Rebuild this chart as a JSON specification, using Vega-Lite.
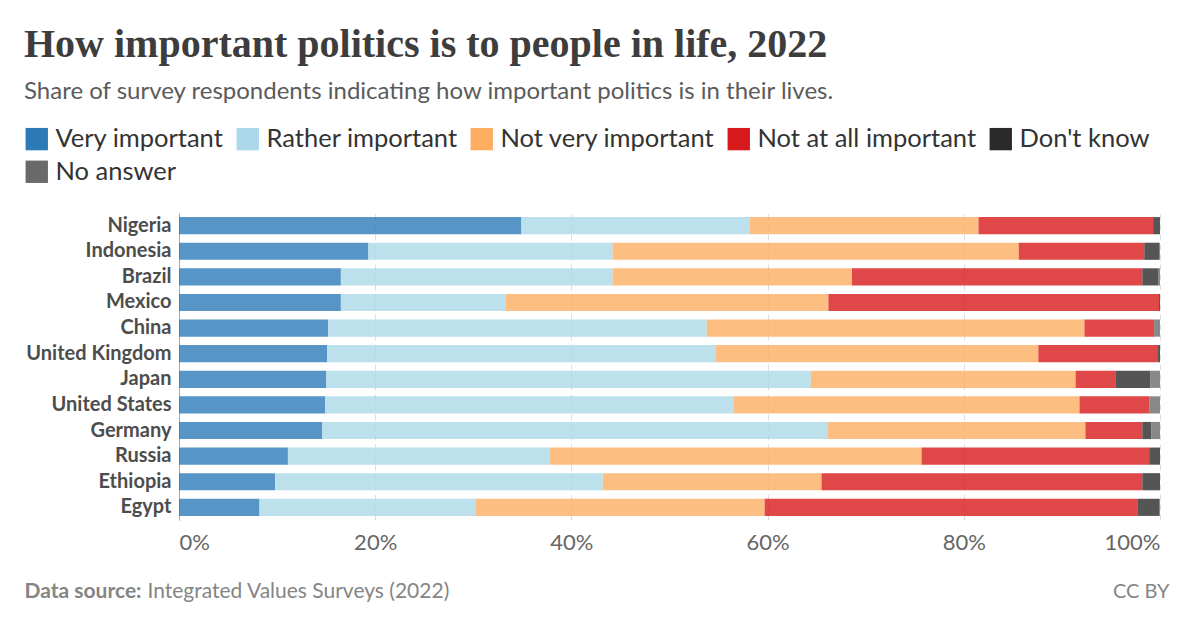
{
  "$schema": "https://vega.github.io/schema/vega-lite/v6.json",
  "width": 981,
  "height": 307,
  "autosize": {"type": "none"},
  "padding": {"left": 179, "top": 213, "right": 40, "bottom": 108},
  "background": "white",
  "title": {
    "text": "How important politics is to people in life, 2022",
    "subtitle": "Share of survey respondents indicating how important politics is in their lives.",
    "anchor": "start",
    "frame": "bounds",
    "font": "Liberation Serif",
    "fontSize": 40,
    "fontWeight": "bold",
    "color": "#3d3d3d",
    "subtitleFont": "Lato",
    "subtitleFontSize": 24,
    "subtitleColor": "#5b5b5b",
    "subtitlePadding": 15,
    "offset": 22
  },
  "data": {
    "values": [
      {"country": "Nigeria", "answer": "Very important", "share": 34.9},
      {"country": "Nigeria", "answer": "Rather important", "share": 23.3},
      {"country": "Nigeria", "answer": "Not very important", "share": 23.3},
      {"country": "Nigeria", "answer": "Not at all important", "share": 17.8},
      {"country": "Nigeria", "answer": "Don't know", "share": 0.7},
      {"country": "Nigeria", "answer": "No answer", "share": 0},
      {"country": "Indonesia", "answer": "Very important", "share": 19.3},
      {"country": "Indonesia", "answer": "Rather important", "share": 24.9},
      {"country": "Indonesia", "answer": "Not very important", "share": 41.4},
      {"country": "Indonesia", "answer": "Not at all important", "share": 12.8},
      {"country": "Indonesia", "answer": "Don't know", "share": 1.5},
      {"country": "Indonesia", "answer": "No answer", "share": 0.1},
      {"country": "Brazil", "answer": "Very important", "share": 16.5},
      {"country": "Brazil", "answer": "Rather important", "share": 27.7},
      {"country": "Brazil", "answer": "Not very important", "share": 24.4},
      {"country": "Brazil", "answer": "Not at all important", "share": 29.6},
      {"country": "Brazil", "answer": "Don't know", "share": 1.6},
      {"country": "Brazil", "answer": "No answer", "share": 0.2},
      {"country": "Mexico", "answer": "Very important", "share": 16.5},
      {"country": "Mexico", "answer": "Rather important", "share": 16.8},
      {"country": "Mexico", "answer": "Not very important", "share": 32.9},
      {"country": "Mexico", "answer": "Not at all important", "share": 33.7},
      {"country": "Mexico", "answer": "Don't know", "share": 0.1},
      {"country": "Mexico", "answer": "No answer", "share": 0},
      {"country": "China", "answer": "Very important", "share": 15.2},
      {"country": "China", "answer": "Rather important", "share": 38.6},
      {"country": "China", "answer": "Not very important", "share": 38.5},
      {"country": "China", "answer": "Not at all important", "share": 7.1},
      {"country": "China", "answer": "Don't know", "share": 0},
      {"country": "China", "answer": "No answer", "share": 0.6},
      {"country": "United Kingdom", "answer": "Very important", "share": 15.1},
      {"country": "United Kingdom", "answer": "Rather important", "share": 39.6},
      {"country": "United Kingdom", "answer": "Not very important", "share": 32.9},
      {"country": "United Kingdom", "answer": "Not at all important", "share": 12.2},
      {"country": "United Kingdom", "answer": "Don't know", "share": 0.2},
      {"country": "United Kingdom", "answer": "No answer", "share": 0},
      {"country": "Japan", "answer": "Very important", "share": 15.0},
      {"country": "Japan", "answer": "Rather important", "share": 49.4},
      {"country": "Japan", "answer": "Not very important", "share": 27.0},
      {"country": "Japan", "answer": "Not at all important", "share": 4.1},
      {"country": "Japan", "answer": "Don't know", "share": 3.5},
      {"country": "Japan", "answer": "No answer", "share": 1.0},
      {"country": "United States", "answer": "Very important", "share": 14.9},
      {"country": "United States", "answer": "Rather important", "share": 41.6},
      {"country": "United States", "answer": "Not very important", "share": 35.3},
      {"country": "United States", "answer": "Not at all important", "share": 7.1},
      {"country": "United States", "answer": "Don't know", "share": 0},
      {"country": "United States", "answer": "No answer", "share": 1.1},
      {"country": "Germany", "answer": "Very important", "share": 14.6},
      {"country": "Germany", "answer": "Rather important", "share": 51.5},
      {"country": "Germany", "answer": "Not very important", "share": 26.3},
      {"country": "Germany", "answer": "Not at all important", "share": 5.8},
      {"country": "Germany", "answer": "Don't know", "share": 0.9},
      {"country": "Germany", "answer": "No answer", "share": 0.9},
      {"country": "Russia", "answer": "Very important", "share": 11.1},
      {"country": "Russia", "answer": "Rather important", "share": 26.7},
      {"country": "Russia", "answer": "Not very important", "share": 37.9},
      {"country": "Russia", "answer": "Not at all important", "share": 23.2},
      {"country": "Russia", "answer": "Don't know", "share": 1.1},
      {"country": "Russia", "answer": "No answer", "share": 0},
      {"country": "Ethiopia", "answer": "Very important", "share": 9.8},
      {"country": "Ethiopia", "answer": "Rather important", "share": 33.4},
      {"country": "Ethiopia", "answer": "Not very important", "share": 22.3},
      {"country": "Ethiopia", "answer": "Not at all important", "share": 32.7},
      {"country": "Ethiopia", "answer": "Don't know", "share": 1.8},
      {"country": "Ethiopia", "answer": "No answer", "share": 0},
      {"country": "Egypt", "answer": "Very important", "share": 8.2},
      {"country": "Egypt", "answer": "Rather important", "share": 22.0},
      {"country": "Egypt", "answer": "Not very important", "share": 29.5},
      {"country": "Egypt", "answer": "Not at all important", "share": 38.0},
      {"country": "Egypt", "answer": "Don't know", "share": 2.2},
      {"country": "Egypt", "answer": "No answer", "share": 0.1}
    ]
  },
  "transform": [
    {"calculate": "indexof(['Very important', 'Rather important', 'Not very important', 'Not at all important', \"Don't know\", 'No answer'], datum.answer)", "as": "answer_order"}
  ],
  "layer": [
    {
      "mark": {"type": "bar", "opacity": 0.8},
      "encoding": {
        "y": {
          "field": "country",
          "type": "nominal",
          "sort": ["Nigeria", "Indonesia", "Brazil", "Mexico", "China", "United Kingdom", "Japan", "United States", "Germany", "Russia", "Ethiopia", "Egypt"],
          "scale": {"paddingInner": 0.33, "paddingOuter": 0.16},
          "axis": {
            "orient": "left",
            "title": "Data source:",
            "titleAngle": 0,
            "titleX": -155,
            "titleY": 378,
            "titleAlign": "left",
            "titleBaseline": "middle",
            "titleFont": "Lato",
            "titleFontSize": 21,
            "titleFontWeight": "bold",
            "titleColor": "#858585",
            "labelFont": "Lato",
            "labelFontSize": 20,
            "labelFontWeight": "bold",
            "labelColor": "#4d4d4d",
            "labelPadding": 8,
            "ticks": false,
            "domain": true,
            "domainColor": "#a6a6a6",
            "domainWidth": 1,
            "grid": false
          }
        },
        "x": {
          "field": "share",
          "type": "quantitative",
          "stack": "zero",
          "scale": {"domain": [0, 100], "nice": false},
          "axis": {
            "orient": "bottom",
            "values": [0, 20, 40, 60, 80, 100],
            "labelExpr": "datum.value + '%'",
            "labelFlush": true,
            "labelFont": "Lato",
            "labelFontSize": 22,
            "labelColor": "#666666",
            "labelPadding": 12,
            "ticks": false,
            "domain": false,
            "grid": true,
            "gridColor": "#dddddd",
            "gridDash": [6, 4],
            "gridWidth": 1,
            "title": "Integrated Values Surveys (2022)",
            "titleX": -32,
            "titleY": 71,
            "titleAlign": "left",
            "titleBaseline": "middle",
            "titleFont": "Lato",
            "titleFontSize": 21,
            "titleFontWeight": "normal",
            "titleColor": "#858585"
          }
        },
        "order": {"field": "answer_order", "type": "quantitative"},
        "color": {
          "field": "answer",
          "type": "nominal",
          "sort": ["Very important", "Rather important", "Not very important", "Not at all important", "Don't know", "No answer"],
          "scale": {
            "domain": ["Very important", "Rather important", "Not very important", "Not at all important", "Don't know", "No answer"],
            "range": ["#2c7bb6", "#abd9e9", "#fdae61", "#d7191c", "#2a2a2a", "#6a6a6a"]
          },
          "legend": {
            "title": null,
            "orient": "none",
            "legendX": -155,
            "legendY": -87,
            "direction": "horizontal",
            "columns": 5,
            "columnPadding": 11,
            "rowPadding": 6,
            "symbolType": "square",
            "symbolSize": 500,
            "symbolOpacity": 1,
            "symbolStrokeWidth": 0,
            "labelFont": "Lato",
            "labelFontSize": 25.5,
            "labelColor": "#333333",
            "labelOffset": 6,
            "labelLimit": 400
          }
        }
      }
    },
    {
      "mark": {"type": "rule", "strokeOpacity": 0},
      "encoding": {
        "y": {
          "field": "country",
          "type": "nominal",
          "sort": ["Nigeria", "Indonesia", "Brazil", "Mexico", "China", "United Kingdom", "Japan", "United States", "Germany", "Russia", "Ethiopia", "Egypt"],
          "axis": {
            "orient": "right",
            "labels": false,
            "ticks": false,
            "domain": false,
            "grid": false,
            "title": "CC BY",
            "titleAngle": 0,
            "titleX": 9,
            "titleY": 378,
            "titleAlign": "right",
            "titleBaseline": "middle",
            "titleFont": "Lato",
            "titleFontSize": 20,
            "titleFontWeight": "normal",
            "titleColor": "#858585"
          }
        }
      }
    }
  ],
  "config": {
    "view": {"stroke": null}
  }
}
